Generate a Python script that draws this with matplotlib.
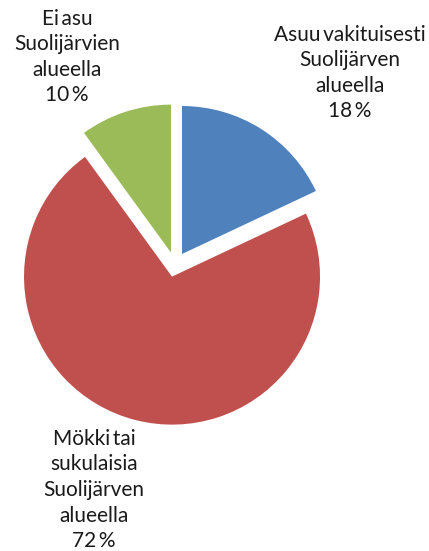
import matplotlib
matplotlib.use('Agg')
from matplotlib import pyplot as plt

plt.rcParams['font.family'] = ['Lato', 'DejaVu Sans']

# data (narrow spaces like in the original)
labels = ['Asuu\u2009vakituisesti\nSuolijärven\nalueella',
          'Mökki\u2009tai\nsukulaisia\nSuolijärven\nalueella',
          'Ei\u2009asu\nSuolijärvien\nalueella']
shares = [18, 72, 10]
colors = ['#4F81BD', '#C0504D', '#9BBB59']

W, H = 429, 551
fig = plt.figure(figsize=(W / 100, H / 100), dpi=100)
ax = fig.add_axes([0, 0, 1, 1])

# explode is in data units here (pixels)
ax.pie(shares, colors=colors, startangle=90, counterclock=False,
       explode=[13, 12, 13], center=(175, H - 265), radius=148,
       wedgeprops={'linewidth': 0})

# pie() resets limits, so set them afterwards
ax.set_xlim(0, W)
ax.set_ylim(0, H)
ax.set_aspect('equal')
ax.axis('off')

# label positions in pixel coords (x, y from top)
label_pos = [(350, 73), (94, 490), (67, 57)]
for lab, s, (x, y) in zip(labels, shares, label_pos):
    ax.text(x, H - y, f'{lab}\n{s}\u2009%', ha='center', va='center',
            fontsize=15, linespacing=1.35, color='#1a1a1a')

fig.savefig('out.png', dpi=100)
